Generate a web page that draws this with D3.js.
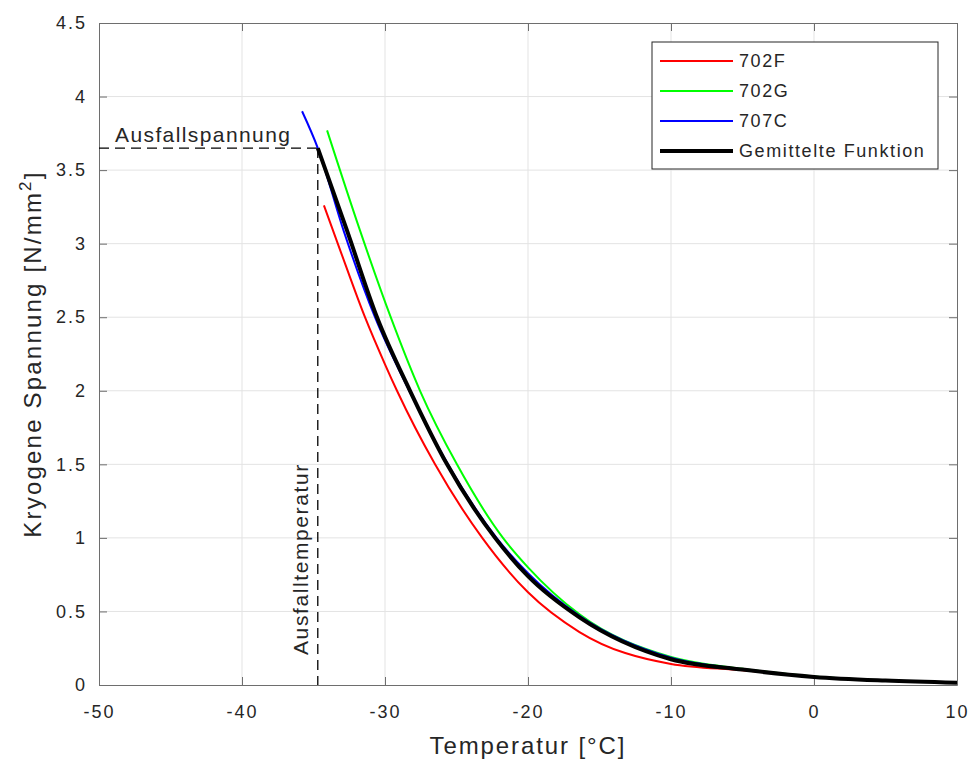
<!DOCTYPE html>
<html>
<head>
<meta charset="utf-8">
<script src="https://cdn.jsdelivr.net/npm/d3@7"></script>
<style>
  body { margin: 0; background: #fff; }
  text { font-family: "Liberation Sans", Arial, sans-serif; fill: #262626; }
</style>
</head>
<body>
<script>
// values
var xTicks = [-50, -40, -30, -20, -10, 0, 10];
var yTicks = [0, 0.5, 1, 1.5, 2, 2.5, 3, 3.5, 4, 4.5];

var seriesNames = ["702F", "702G", "707C", "Gemittelte Funktion"];
var seriesColors = ["#ff0000", "#00ff00", "#0000ff", "#000000"];

var tempF = [-34.27, -33.15, -31.4, -30, -29.16, -26.5, -23.2, -20, -16.4, -10, -5, 0, 5, 10];
var valF  = [3.26, 2.96, 2.5, 2.18, 2.0, 1.5, 1.0, 0.63, 0.36, 0.143, 0.10, 0.055, 0.03, 0.015];

var tempG = [-34.05, -31.75, -29.6, -27.55, -24.97, -21.75, -20, -16.4, -10, -5, 0, 5, 10];
var valG  = [3.77, 3.09, 2.5, 2.0, 1.5, 1.0, 0.80, 0.48, 0.19, 0.11, 0.058, 0.03, 0.015];

var tempC = [-35.8, -34.7, -32.9, -30.7, -28.3, -25.6, -22.2, -20, -16.4, -10, -5, 0, 5, 10];
var valC  = [3.90, 3.65, 3.09, 2.5, 2.0, 1.5, 1.0, 0.76, 0.47, 0.185, 0.107, 0.056, 0.03, 0.015];

var tempM = [-34.7, -32.66, -30.56, -28.25, -25.66, -22.3, -20, -16.4, -10, -5, 0, 5, 10];
var valM  = [3.65, 3.09, 2.5, 2.0, 1.5, 1.0, 0.74, 0.46, 0.175, 0.105, 0.055, 0.03, 0.015];

var failTemp = -34.7;
var failStress = 3.65;

var allTemps = [tempF, tempG, tempC, tempM];
var allVals = [valF, valG, valC, valM];
var series = [];
for (var i = 0; i < seriesNames.length; i++) {
  var pts = [];
  for (var j = 0; j < allTemps[i].length; j++) {
    pts.push({t: allTemps[i][j], v: allVals[i][j]});
  }
  series.push({name: seriesNames[i], color: seriesColors[i], points: pts, width: i == 3 ? 4 : 2});
}

var W = 969, H = 760;
var pLeft = 99, pRight = 957, pTop = 23, pBottom = 685;

var svg = d3.select("body").append("svg")
  .attr("width", W)
  .attr("height", H);

var x = d3.scaleLinear().domain([-50, 10]).range([pLeft, pRight]);
var y = d3.scaleLinear().domain([0, 4.5]).range([pBottom, pTop]);

// grid
svg.append("g").selectAll("line").data(xTicks.slice(1, -1)).enter().append("line")
  .attr("x1", function(d) { return x(d); }).attr("x2", function(d) { return x(d); })
  .attr("y1", pTop).attr("y2", pBottom)
  .attr("stroke", "#e3e3e3").attr("stroke-width", 1);
svg.append("g").selectAll("line").data(yTicks.slice(1, -1)).enter().append("line")
  .attr("y1", function(d) { return y(d); }).attr("y2", function(d) { return y(d); })
  .attr("x1", pLeft).attr("x2", pRight)
  .attr("stroke", "#e3e3e3").attr("stroke-width", 1);

// axes, ticks pointing inwards like matlab
var fmt = function(d) { return String(d); };
svg.append("g").attr("transform", "translate(0," + pBottom + ")")
  .call(d3.axisBottom(x).tickValues(xTicks).tickSizeInner(-8).tickSizeOuter(0).tickPadding(20).tickFormat(fmt));
svg.append("g").attr("transform", "translate(" + pLeft + ",0)")
  .call(d3.axisLeft(y).tickValues(yTicks).tickSizeInner(-8).tickSizeOuter(0).tickPadding(12).tickFormat(fmt));
svg.append("g").attr("transform", "translate(0," + pTop + ")")
  .call(d3.axisTop(x).tickValues(xTicks).tickSizeInner(-8).tickSizeOuter(0).tickFormat(""));
svg.append("g").attr("transform", "translate(" + pRight + ",0)")
  .call(d3.axisRight(y).tickValues(yTicks).tickSizeInner(-8).tickSizeOuter(0).tickFormat(""));

svg.selectAll(".domain, .tick line").attr("stroke", "#6e6e6e").attr("stroke-width", 1);
svg.selectAll(".tick text")
  .style("font-family", "Liberation Sans, Arial, sans-serif")
  .style("font-size", "18px")
  .style("letter-spacing", "2px")
  .attr("fill", "#333");

// dashed failure lines
svg.append("line")
  .attr("x1", x(-50)).attr("x2", x(failTemp))
  .attr("y1", y(failStress)).attr("y2", y(failStress))
  .attr("stroke", "#000").attr("stroke-width", 1.3).attr("stroke-dasharray", "10,6");
svg.append("line")
  .attr("x1", x(failTemp)).attr("x2", x(failTemp))
  .attr("y1", y(failStress)).attr("y2", y(0))
  .attr("stroke", "#000").attr("stroke-width", 1.3).attr("stroke-dasharray", "10,6");

// curves
var line = d3.line()
  .x(function(d) { return x(d.t); })
  .y(function(d) { return y(d.v); })
  .curve(d3.curveMonotoneX);

svg.selectAll(".curve").data(series).enter().append("path")
  .attr("class", "curve")
  .attr("d", function(d) { return line(d.points); })
  .attr("fill", "none")
  .attr("stroke", function(d) { return d.color; })
  .attr("stroke-width", function(d) { return d.width; });

// annotations
svg.append("text")
  .attr("x", 115).attr("y", 142)
  .style("font-size", "21px").style("letter-spacing", "1.4px")
  .text("Ausfallspannung");
svg.append("text")
  .attr("transform", "translate(308,655)rotate(-90)")
  .style("font-size", "21px").style("letter-spacing", "1.6px")
  .text("Ausfalltemperatur");

// axis labels
svg.append("text")
  .attr("x", (pLeft + pRight) / 2).attr("y", 754)
  .attr("text-anchor", "middle")
  .style("font-size", "24px").style("letter-spacing", "1.9px")
  .text("Temperatur [°C]");

var yl = svg.append("text")
  .attr("transform", "translate(41," + ((pTop + pBottom) / 2) + ")rotate(-90)")
  .attr("text-anchor", "middle")
  .style("font-size", "24px").style("letter-spacing", "2.2px");
yl.append("tspan").text("Kryogene Spannung [N/mm");
yl.append("tspan").attr("dy", -10).style("font-size", "17px").text("2");
yl.append("tspan").attr("dy", 10).text("]");

// legend
var lg = svg.append("g");
lg.append("rect")
  .attr("x", 652).attr("y", 42).attr("width", 286).attr("height", 127)
  .attr("fill", "#fff").attr("stroke", "#262626").attr("stroke-width", 1);
var items = lg.selectAll(".item").data(series).enter().append("g")
  .attr("transform", function(d, i) { return "translate(0," + (61 + i * 30) + ")"; });
items.append("line")
  .attr("x1", 660).attr("x2", 733)
  .attr("stroke", function(d) { return d.color; })
  .attr("stroke-width", function(d) { return d.width; });
items.append("text")
  .attr("x", 739).attr("dy", "0.35em")
  .style("font-size", "18px").style("letter-spacing", "1.6px")
  .text(function(d) { return d.name; });
</script>
</body>
</html>
